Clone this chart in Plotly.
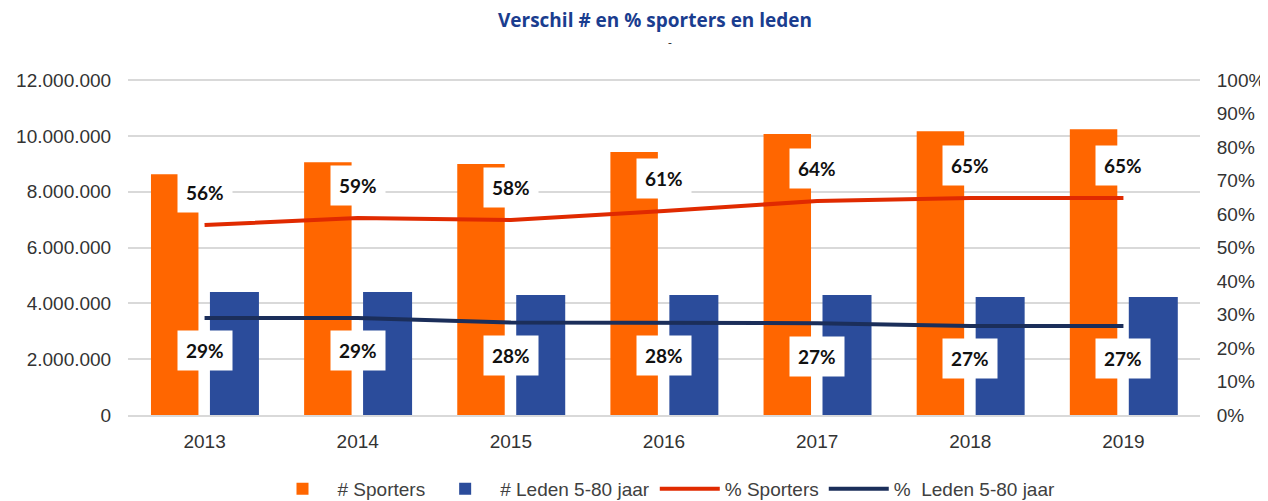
import plotly.graph_objects as go

years = ["2013", "2014", "2015", "2016", "2017", "2018", "2019"]
sporters = [8630000, 9060000, 8990000, 9420000, 10070000, 10170000, 10240000]
leden = [4410000, 4410000, 4300000, 4300000, 4300000, 4230000, 4230000]
pct_sporters = [0.567, 0.588, 0.582, 0.609, 0.639, 0.648, 0.648]
pct_leden = [0.29, 0.29, 0.276, 0.276, 0.274, 0.266, 0.266]
pct_sporters_lbl = ["56%", "59%", "58%", "61%", "64%", "65%", "65%"]
pct_leden_lbl = ["29%", "29%", "28%", "28%", "27%", "27%", "27%"]

ORANGE = "#FF6600"
BLUE = "#2B4C9B"
RED = "#E02A00"
NAVY = "#1B2E5A"

YMAX = 12040000  # slight headroom so the 12.000.000 gridline is drawn
fig = go.Figure()
fig.add_trace(go.Bar(x=years, y=sporters, name="# Sporters", marker_color=ORANGE,
                     width=0.31, offset=-0.35, marker_line_width=0))
fig.add_trace(go.Bar(x=years, y=leden, name="# Leden 5-80 jaar", marker_color=BLUE,
                     width=0.32, offset=0.035, marker_line_width=0))
fig.add_trace(go.Scatter(x=years, y=pct_sporters, name="% Sporters", mode="lines",
                         line=dict(color=RED, width=4), yaxis="y2"))
fig.add_trace(go.Scatter(x=years, y=pct_leden, name="%  Leden 5-80 jaar", mode="lines",
                         line=dict(color=NAVY, width=4), yaxis="y2"))

lblfont = dict(family="Lato", size=19, color="#111111", weight="bold")
annotations = []
for i, (y, t) in enumerate(zip(pct_sporters, pct_sporters_lbl)):
    annotations.append(dict(x=i, y=y, xref="x", yref="y2", text=t, showarrow=False,
                            yshift=33, bgcolor="white", borderpad=8, font=lblfont))
for i, (y, t) in enumerate(zip(pct_leden, pct_leden_lbl)):
    annotations.append(dict(x=i, y=y, xref="x", yref="y2", text=t, showarrow=False,
                            yshift=-33, bgcolor="white", borderpad=8, font=lblfont))
annotations.append(dict(x=0.506, y=1, xref="paper", yref="paper", yanchor="bottom", yshift=26,
                        text="-", showarrow=False, font=dict(size=12, color="#333")))

tickfont = dict(family="Liberation Sans", size=19, color="#333333")
fig.update_layout(
    width=1260, height=493,
    margin=dict(l=120, r=68, t=71, b=86, autoexpand=False),
    paper_bgcolor="white", plot_bgcolor="white",
    separators=",.",
    title=dict(text="<b>Verschil # en % sporters en leden</b>", x=0.5135, xanchor="center",
               y=1 - 12 / 493, yanchor="middle",
               font=dict(family="Open Sans", size=19, color="#1A3D8F")),
    barmode="overlay",
    xaxis=dict(type="category", range=[-0.5, len(years) - 0.5], showline=True,
               linecolor="#D9D9D9", linewidth=2, ticks="outside", ticklen=8, tickcolor="white",
               tickfont=tickfont),
    yaxis=dict(range=[0, YMAX], dtick=2000000, tickformat=",d",
               showgrid=True, gridcolor="#D9D9D9", gridwidth=2, zeroline=False,
               ticks="outside", ticklen=12, tickcolor="white", tickfont=tickfont),
    yaxis2=dict(range=[0, YMAX / 12000000], dtick=0.1, tickformat=".0%", overlaying="y",
                side="right", showgrid=False, zeroline=False, ticks="outside", ticklen=12,
                tickcolor="white", tickfont=tickfont),
    legend=dict(orientation="h", x=0.5, xanchor="center", y=-0.22, yanchor="middle",
                font=dict(family="Liberation Sans", size=19, color="#404040"),
                traceorder="normal", itemwidth=60),
    annotations=annotations,
    showlegend=True,
)

fig.write_html("out.html")
